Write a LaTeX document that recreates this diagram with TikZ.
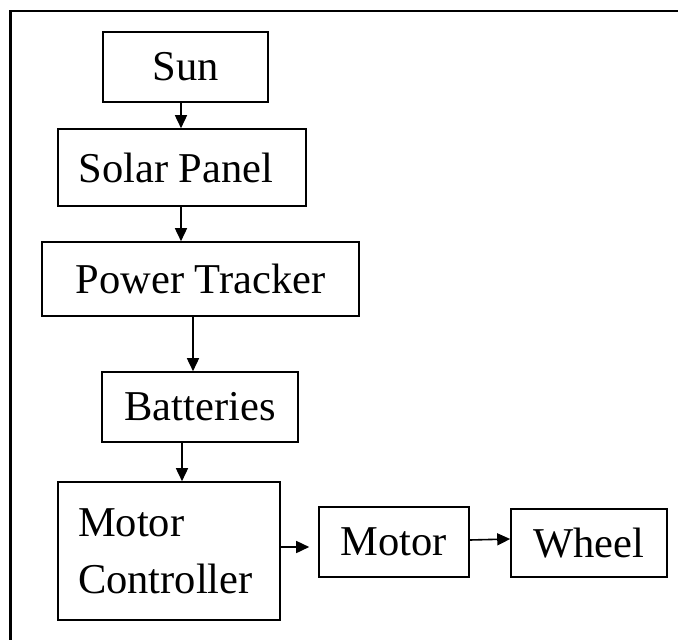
\documentclass[tikz,border=0pt]{standalone}
\usepackage{fontspec}
\setmainfont{Liberation Serif}
\usetikzlibrary{arrows.meta}
\begin{document}
\begin{tikzpicture}[x=1pt,y=-1pt,
  blk/.style={draw, line width=1.6pt, inner sep=0pt, font=\fontsize{42.5pt}{57pt}\selectfont},
  arr/.style={line width=1.6pt, -{Triangle[length=13pt,width=12pt]}}]
\useasboundingbox (0,0) rectangle (678,640);
\fill[white] (0,0) rectangle (678,640);
% frame (only top and left edges are within the picture)
\draw[line width=2.2pt] (678,11) -- (10.5,11) -- (10.5,640);
% boxes
\node[blk, minimum width=165pt, minimum height=70pt] (sun) at (185.5,67) {Sun};
\node[blk, minimum width=248pt, minimum height=77pt] (sp) at (182,167.5) {\hspace*{-12pt}Solar Panel};
\node[blk, minimum width=317pt, minimum height=74pt] (pt) at (200.5,279) {Power Tracker};
\node[blk, minimum width=196pt, minimum height=70pt] (bat) at (200,407) {Batteries};
\node[blk, minimum height=138pt, inner xsep=20pt, text width=182pt, align=left] (mc) at (169,551) {Motor\\Controller};
\node[blk, minimum width=150pt, minimum height=70pt] (motor) at (394,542) {Motor};
\node[blk, minimum width=156pt, minimum height=68pt] (wheel) at (589,543) {Wheel};
% guide coordinates
\coordinate (c1) at (181,0);
\coordinate (c2) at (193,0);
\coordinate (c3) at (182,0);
\coordinate (r1) at (0,547);
% connectors
\draw[arr] (sun.south -| c1) -- (sp.north -| c1);
\draw[arr] (sp.south -| c1) -- (pt.north -| c1);
\draw[arr] (pt.south -| c2) -- (bat.north -| c2);
\draw[arr] (bat.south -| c3) -- (mc.north -| c3);
\draw[arr, shorten >=9pt] (mc.east |- r1) -- (motor.west |- r1);
\draw[arr] ([yshift=2pt]motor.east) -- ([yshift=4pt]wheel.west);
\end{tikzpicture}
\end{document}
